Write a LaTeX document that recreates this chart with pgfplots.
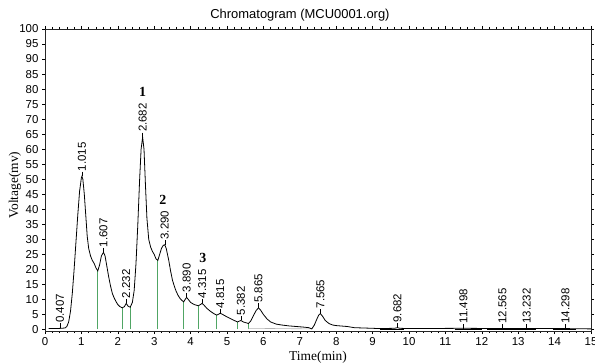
\documentclass[border=0pt]{standalone}
\usepackage{pgfplots}
\pgfplotsset{compat=1.18}
\usepackage{pgfplotstable}
\usepackage{fontspec}
\setmainfont{Liberation Sans}
\newfontfamily\seriffont{Liberation Serif}
\definecolor{peakgreen}{RGB}{80,165,100}

\pgfplotstableread{
t v
0.10 0.3
0.30 0.3
0.45 0.4
0.55 0.5
0.60 1.0
0.65 2.5
0.70 6
0.75 12
0.80 20
0.85 29
0.90 38
0.95 46
1.00 50.5
1.015 51
1.04 50
1.08 45
1.12 38
1.16 31
1.20 27
1.25 24.5
1.30 23
1.35 22
1.40 20.5
1.45 19.5
1.50 21.5
1.55 24.5
1.607 25.7
1.65 24.5
1.70 21
1.75 17.5
1.80 14.5
1.85 12
1.90 10.5
1.95 9.3
2.00 8.3
2.05 7.7
2.12 7.2
2.18 7.6
2.232 8.7
2.28 7.8
2.34 7.4
2.40 9
2.45 13
2.50 22
2.55 35
2.60 50
2.64 60
2.682 64
2.72 60
2.76 48
2.80 37
2.85 30
2.90 27.5
2.95 26
3.00 25
3.05 23.5
3.10 23
3.15 25
3.20 27
3.25 28
3.29 28.2
3.33 27
3.40 23
3.45 19.5
3.50 16.5
3.55 14.5
3.60 12.8
3.65 11.5
3.70 10.5
3.75 9.8
3.81 9.2
3.85 10
3.89 10.7
3.95 9.8
4.00 9
4.10 8.3
4.21 7.9
4.27 8.3
4.315 8.7
4.36 8.2
4.45 7
4.55 6
4.65 5.2
4.72 4.8
4.77 5.1
4.815 5.4
4.88 5
5.00 4.2
5.10 3.6
5.20 3
5.29 2.5
5.34 2.8
5.382 3
5.45 2.5
5.59 2
5.65 2.8
5.72 4.5
5.80 6.3
5.865 7.2
5.92 6.5
6.00 5
6.10 3.5
6.20 2.5
6.35 1.8
6.50 1.5
6.70 1.2
6.90 1.0
7.10 0.8
7.25 0.6
7.33 0.2
7.40 1.5
7.47 3.5
7.52 4.8
7.565 5.3
7.62 4.5
7.70 3
7.80 2
7.90 1.5
8.00 1.3
8.30 1.0
8.50 0.6
9.00 0.4
9.20 0.3
9.60 0.4
9.682 0.6
9.75 0.4
10.0 0.3
11.498 0.4
12.565 0.3
13.232 0.3
14.298 0.3
15.0 0.2
}\curve

\pgfplotstableread{
t ly lab
0.407 2.0 0.407
1.015 52.5 1.015
1.607 27.2 1.607
2.232 10.2 2.232
2.682 65.5 2.682
3.290 29.7 3.290
3.890 12.2 3.890
4.315 10.2 4.315
4.815 6.9 4.815
5.382 4.5 5.382
5.865 8.7 5.865
7.565 6.8 7.565
9.682 2.1 9.682
11.498 1.8 11.498
12.565 1.8 12.565
13.232 1.8 13.232
14.298 1.8 14.298
}\peaks

\pgfplotstableread{
t v
1.45 19.4
2.12 7.1
2.34 7.4
3.10 23
3.81 9.1
4.21 7.8
4.72 4.7
5.29 2.4
5.59 2.0
}\drops

\begin{document}
\begin{tikzpicture}
\useasboundingbox (0,0) rectangle (595bp,363bp);
\begin{axis}[
  at={(45bp,32bp)}, anchor=south west,
  scale only axis, width=546bp, height=302bp,
  xmin=0, xmax=15, ymin=-0.5, ymax=100,
  xtick={0,1,...,15}, ytick={0,5,...,100},
  minor x tick num=4,
  tick align=outside, major tick length=3bp, minor tick length=2bp,
  tick style={black, line width=0.5pt},
  axis line style={line width=0.6pt, black!85},
  ticklabel style={font=\fontsize{11.5}{12}\selectfont},
  /pgf/number format/assume math mode=true,
  xlabel={Time(min)}, ylabel={Voltage(mv)},
  xlabel style={font=\seriffont\fontsize{13.5}{14}\selectfont, at={(axis description cs:0.5,-0.086)}, anchor=center},
  ylabel style={font=\seriffont\fontsize{13.5}{14}\selectfont, at={(axis description cs:-0.055,0.483)}, anchor=center},
  clip=false,
  every node near coord/.style={rotate=90, anchor=west, inner sep=0.5pt, font=\fontsize{11.5}{12}\selectfont, black},
]
\addplot[draw=peakgreen, line width=1.1pt, ycomb, mark=none] table[x=t, y=v] {\drops};
\addplot[gray!60, line width=0.6pt] coordinates {(5.59,0.4) (7.33,0.2)};
\addplot[black, line width=1.2pt] coordinates {(9.2,0) (9.85,0)};
\addplot[black, line width=1.2pt] coordinates {(11.25,0) (12.0,0)};
\addplot[black, line width=1.2pt] coordinates {(12.15,0) (13.5,0)};
\addplot[black, line width=1.2pt] coordinates {(13.95,0) (14.6,0)};
\addplot[black, line width=0.8pt, mark=none] table[x=t, y=v] {\curve};
\addplot[draw=none, mark=none,
  nodes near coords, point meta=explicit symbolic,
  error bars/.cd, y dir=minus, y fixed=1.5, error mark=none,
  error bar style={black, line width=0.5pt}]
  table[x=t, y=ly, meta=lab] {\peaks};
\node[font=\seriffont\bfseries\fontsize{14}{14}\selectfont] at (axis cs:2.682,79) {1};
\node[font=\seriffont\bfseries\fontsize{14}{14}\selectfont] at (axis cs:3.24,43) {2};
\node[font=\seriffont\bfseries\fontsize{14}{14}\selectfont] at (axis cs:4.34,23.7) {3};
\node[font=\fontsize{13}{13}\selectfont] at (axis description cs:0.467,1.046) {Chromatogram (MCU0001.org)};
\end{axis}
\end{tikzpicture}
\end{document}
